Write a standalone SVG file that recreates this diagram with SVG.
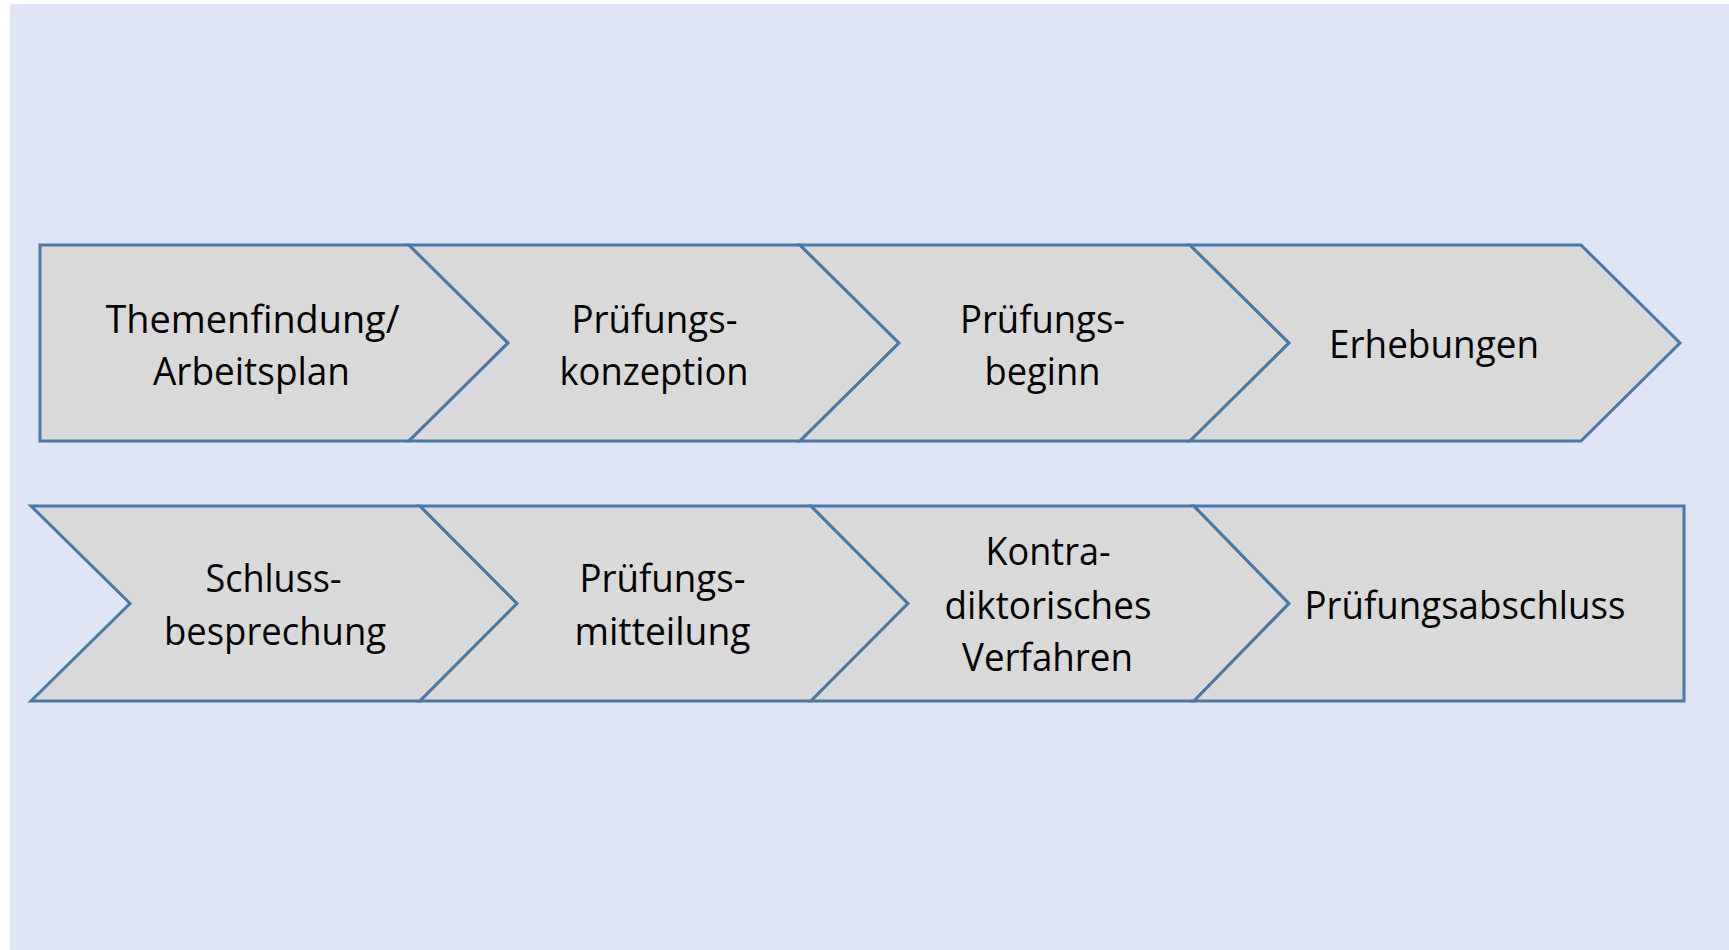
<svg xmlns="http://www.w3.org/2000/svg" width="1729" height="950" viewBox="0 0 1729 950">
<style>
.bg{fill:#dfe4f7}
.shape{fill:#d9d9d9;stroke:#4a78a8;stroke-width:3;stroke-linejoin:miter}
.lbl{font-family:"Open Sans","Noto Sans","DejaVu Sans",sans-serif;font-size:38.5px;fill:#000;text-anchor:middle}
</style>
<rect x="0" y="0" width="1729" height="950" fill="#ffffff"/>
<rect class="bg" x="10" y="4" width="1719" height="946"/>
<g id="connectors"></g>
<g id="n1">
<path class="shape" d="M40,245 L409,245 L508,343 L409,441 L40,441 Z"/>
<text class="lbl" x="252.5" y="333" textLength="294" lengthAdjust="spacingAndGlyphs">Themenfindung/</text>
<text class="lbl" x="251.5" y="385" textLength="197" lengthAdjust="spacingAndGlyphs">Arbeitsplan</text>
</g>
<g id="n2">
<path class="shape" d="M409,245 L800,245 L899,343 L800,441 L409,441 L508,343 Z"/>
<text class="lbl" x="654.5" y="333" textLength="166" lengthAdjust="spacingAndGlyphs">Prüfungs-</text>
<text class="lbl" x="654" y="385" textLength="189" lengthAdjust="spacingAndGlyphs">konzeption</text>
</g>
<g id="n3">
<path class="shape" d="M800,245 L1190,245 L1289,343 L1190,441 L800,441 L899,343 Z"/>
<text class="lbl" x="1042.5" y="333" textLength="165" lengthAdjust="spacingAndGlyphs">Prüfungs-</text>
<text class="lbl" x="1042.5" y="385" textLength="116" lengthAdjust="spacingAndGlyphs">beginn</text>
</g>
<g id="n4">
<path class="shape" d="M1190,245 L1581,245 L1680,343 L1581,441 L1190,441 L1289,343 Z"/>
<text class="lbl" x="1434" y="358" textLength="210" lengthAdjust="spacingAndGlyphs">Erhebungen</text>
</g>
<g id="n5">
<path class="shape" d="M31,506 L420,506 L517,603.5 L420,701 L31,701 L130,603.5 Z"/>
<text class="lbl" x="273.5" y="592" textLength="136" lengthAdjust="spacingAndGlyphs">Schluss-</text>
<text class="lbl" x="275" y="645" textLength="222" lengthAdjust="spacingAndGlyphs">besprechung</text>
</g>
<g id="n6">
<path class="shape" d="M420,506 L811,506 L908,603.5 L811,701 L420,701 L517,603.5 Z"/>
<text class="lbl" x="662.5" y="592" textLength="166" lengthAdjust="spacingAndGlyphs">Prüfungs-</text>
<text class="lbl" x="662.5" y="645" textLength="176" lengthAdjust="spacingAndGlyphs">mitteilung</text>
</g>
<g id="n7">
<path class="shape" d="M811,506 L1194,506 L1289,603.5 L1194,701 L811,701 L908,603.5 Z"/>
<text class="lbl" x="1048" y="565" textLength="125" lengthAdjust="spacingAndGlyphs">Kontra-</text>
<text class="lbl" x="1048" y="618.5" textLength="207" lengthAdjust="spacingAndGlyphs">diktorisches</text>
<text class="lbl" x="1047.5" y="670.5" textLength="171" lengthAdjust="spacingAndGlyphs">Verfahren</text>
</g>
<g id="n8">
<path class="shape" d="M1194,506 L1684,506 L1684,701 L1194,701 L1289,603.5 Z"/>
<text class="lbl" x="1465" y="618.5" textLength="321" lengthAdjust="spacingAndGlyphs">Prüfungsabschluss</text>
</g>
</svg>
